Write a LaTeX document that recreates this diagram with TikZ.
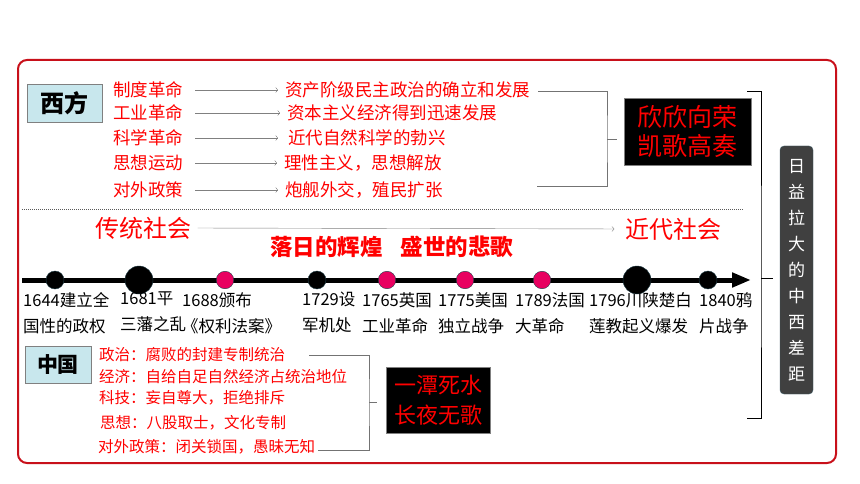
\documentclass[tikz,border=0pt]{standalone}
\usepackage{fontspec}
\setmainfont{Noto Sans CJK SC}
\usepackage{tikz}
\usetikzlibrary{arrows.meta,calc}

\definecolor{framered}{RGB}{200,16,26}
\definecolor{hotpink}{RGB}{232,0,96}
\definecolor{rimblue}{RGB}{30,60,70}
\definecolor{paleblue}{RGB}{200,231,237}
\definecolor{panelgray}{RGB}{64,64,64}
\definecolor{panelrim}{RGB}{60,90,100}
\newcommand{\fsz}[2]{\fontsize{#1}{#2}\selectfont}

\begin{document}
\begin{tikzpicture}
    [x=1pt, y=-1pt,
    item/.style={font=\fsz{17.5}{20}, text=red, anchor=west, inner sep=0pt},
    cnitem/.style={font=\fsz{15.5}{18}, text=red, anchor=west, inner sep=0pt},
    lead/.style={draw=gray, ->, shorten <=12pt, shorten >=7pt},
    brk/.style={draw=gray!90!black},
    tag/.style={draw=gray, fill=paleblue, inner sep=0pt},
    verdict/.style={fill=black, draw=gray, text=red, align=center, inner sep=0pt},
    evt/.style={font=\fsz{16.5}{26}, align=left, anchor=north west, inner sep=0pt},
    dot/.style={circle, draw=rimblue, fill=black, inner sep=0pt, minimum size=18pt},
    bigdot/.style={dot, minimum size=28pt},
    pinkdot/.style={dot, fill=hotpink, minimum size=17.5pt}]

  \useasboundingbox (0,0) rectangle (860,484);
  \draw[framered, line width=2pt, rounded corners=9pt] (18,60) rectangle (836,463);

  % west
  \node[tag, minimum width=75pt, minimum height=38pt, font=\bfseries\fsz{24}{26}] (west) at (64.5,103) {西方};
  \node[item] (l1) at (113,90) {制度革命};
  \node[item] (l2) at (113,113) {工业革命};
  \node[item] (l3) at (113,138) {科学革命};
  \node[item] (l4) at (113,163) {思想运动};
  \node[item] (l5) at (113,190) {对外政策};
  \node[item] (r1) at (285,90) {资产阶级民主政治的确立和发展};
  \node[item] (r2) at (287,113) {资本主义经济得到迅速发展};
  \node[item] (r3) at (288,138) {近代自然科学的勃兴};
  \node[item] (r4) at (284,163) {理性主义，思想解放};
  \node[item] (r5) at (285,190) {炮舰外交，殖民扩张};
  \draw[lead] (l1.east) -- (r1.west);
  \draw[lead] (l2.east) -- (r2.west);
  \draw[lead, shorten >=10pt] (l3.east) -- (r3.west);
  \draw[lead] (l4.east) -- (r4.west);
  \draw[lead] (l5.east) -- (r5.west);

  \coordinate (wtop) at (538,91);
  \coordinate (wmid) at (607,139);
  \coordinate (wbot) at (537,186);
  \coordinate (wtip) at (617,139);
  \draw[brk] (wtop) -| (wmid) |- (wbot);
  \draw[brk] (wmid) -- (wtip);
  \node[verdict, minimum width=127pt, minimum height=67pt, font=\fsz{25}{29}] (boom) at (687.5,131.5) {欣欣向荣\\凯歌高奏};

  \draw[gray!70!black, densely dotted, line width=1pt] (22,210) -- (744,210);

  % ages
  \node[font=\fsz{24}{26}, text=red, inner sep=0pt] (trad) at (143.5,228) {传统社会};
  \node[font=\fsz{24}{26}, text=red, inner sep=0pt] (mod) at (673.5,229) {近代社会};
  \draw[draw=gray, ->, shorten <=6pt, shorten >=11pt] (trad.east) -- (mod.west);
  \node[font=\bfseries\fsz{22.5}{26}, text=red, inner sep=0pt] (dusk) at (391.5,247) {落日的辉煌\hspace{0.8em}盛世的悲歌};

  % timeline
  \coordinate (ts) at (22,280);
  \coordinate (te) at (751,280);
  \draw[line width=5pt, -{Triangle[length=19pt,width=14pt]}] (ts) -- (te);
  \node[dot] (d1) at (55,280) {};
  \node[bigdot] (d2) at (139,280) {};
  \node[pinkdot] (d3) at (225,280) {};
  \node[dot] (d4) at (317,280) {};
  \node[pinkdot] (d5) at (387,280) {};
  \node[pinkdot] (d6) at (465,280) {};
  \node[pinkdot] (d7) at (542,280) {};
  \node[bigdot] (d8) at (637,280) {};
  \node[dot] (d9) at (708,280) {};

  \node[evt] (e1) at (23,292) {1644建立全\\国性的政权};
  \node[evt] (e2) at (120,292) {1681平\\三藩之乱};
  \node[evt] (e3) at (182,292) {1688颁布\\《权利法案》};
  \node[evt] (e4) at (302,292) {1729设\\军机处};
  \node[evt] (e5) at (362,292) {1765英国\\工业革命};
  \node[evt] (e6) at (438,292) {1775美国\\独立战争};
  \node[evt] (e7) at (515,292) {1789法国\\大革命};
  \node[evt] (e8) at (589,292) {1796川陕楚白\\莲教起义爆发};
  \node[evt] (e9) at (699,292) {1840鸦\\片战争};

  % china
  \node[tag, minimum width=66pt, minimum height=37pt, font=\bfseries\fsz{21}{24}] (china) at (58,364.5) {中国};
  \node[cnitem] (c1) at (99,355) {政治：腐败的封建专制统治};
  \node[cnitem] (c2) at (99,377) {经济：自给自足自然经济占统治地位};
  \node[cnitem] (c3) at (99,398) {科技：妄自尊大，拒绝排斥};
  \node[cnitem] (c4) at (100,423) {思想：八股取士，文化专制};
  \node[cnitem] (c5) at (98,447) {对外政策：闭关锁国，愚昧无知};

  \coordinate (ctop) at (309,355);
  \coordinate (cmid) at (369,402);
  \coordinate (cbot) at (318,450);
  \coordinate (ctip) at (377,402);
  \draw[brk] (ctop) -| (cmid) |- (cbot);
  \draw[brk] (cmid) -- (ctip);
  \node[verdict, minimum width=104pt, minimum height=66pt, font=\fsz{22}{30}] (gloom) at (438,400) {一潭死水\\长夜无歌};

  % gap
  \coordinate (gtop) at (747,91);
  \coordinate (gmid) at (761,278);
  \coordinate (gbot) at (747,418);
  \coordinate (gtip) at (773,278);
  \draw (gtop) -| (gmid) |- (gbot);
  \draw (gmid) -- (gtip);
  \node[fill=panelgray, draw=panelrim, rounded corners=4pt, minimum width=33pt, minimum height=248pt,
    text=white, align=center, inner sep=0pt, font=\fsz{17}{26}] (gap) at (796.5,270)
    {日\\益\\拉\\大\\的\\中\\西\\差\\距};

\end{tikzpicture}
\end{document}
